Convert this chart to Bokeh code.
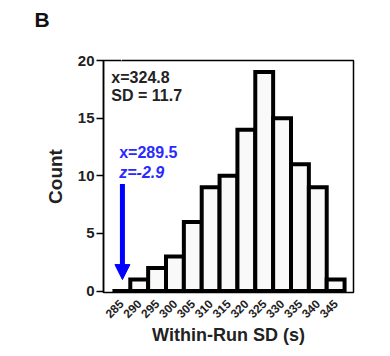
import math
from bokeh.plotting import figure
from bokeh.models import (FixedTicker, Label, Arrow, NormalHead, ColumnDataSource, Range1d,
                          Title, LinearAxis)
from bokeh.embed import file_html
from bokeh.resources import INLINE

# ---- data ----
bins = [285, 290, 295, 300, 305, 310, 315, 320, 325, 330, 335, 340, 345]
counts = [0, 1, 2, 3, 6, 9, 10, 14, 19, 15, 11, 9, 1]
bin_width = 5
y_ticks = [0, 5, 10, 15, 20]
mean_text = "x=324.8"
sd_text = "SD = 11.7"
outlier_x_text = "x=289.5"
outlier_z_text = "z=-2.9"
panel_letter = "B"

FONT = "Liberation Sans"

src = ColumnDataSource(dict(
    left=[b - bin_width / 2 for b in bins],
    right=[b + bin_width / 2 for b in bins],
    top=counts,
    bottom=[0] * len(counts),
))

p = figure(width=382, height=348, output_backend="svg", toolbar_location=None,
           x_range=Range1d(280, 350), y_range=Range1d(-0.12, 20),
           min_border_left=103, min_border_right=29, min_border_top=60, min_border_bottom=56)
p.background_fill_color = "white"
p.border_fill_color = "white"
p.outline_line_color = "black"
p.outline_line_width = 1.5
p.xgrid.visible = False
p.ygrid.visible = False

xax = p.below[0]
yax = p.left[0]

# spacer axis above the frame (white tick, blank label) so the panel letter sits near the top
spacer = LinearAxis(ticker=FixedTicker(ticks=[bins[0]]), axis_line_color=None,
                    major_tick_line_color="white", minor_tick_line_color=None,
                    major_tick_out=30, major_tick_in=0, major_label_standoff=0,
                    major_label_overrides={bins[0]: ""},
                    major_label_text_font_size="1px")
p.add_layout(spacer, "above")
p.add_layout(Title(text=panel_letter, align="left", offset=-69, standoff=0,
                   vertical_align="bottom",
                   text_font=FONT, text_font_size="21px", text_font_style="bold",
                   text_color="#111111"), "above")

p.quad(left="left", right="right", top="top", bottom="bottom", source=src,
       fill_color="#f9f9f9", line_color="black", line_width=4, line_join="miter")

# axes
xax.ticker = FixedTicker(ticks=bins)
xax.major_label_orientation = math.pi / 4
xax.major_tick_line_color = None
xax.major_tick_out = 0
xax.major_tick_in = 0
xax.minor_tick_line_color = None
xax.axis_line_color = "black"
xax.major_label_text_font = FONT
xax.major_label_text_font_size = "12px"
xax.major_label_text_font_style = "bold"
xax.major_label_text_color = "#222222"
xax.major_label_standoff = 9
xax.axis_label = "Within-Run SD (s)"
xax.axis_label_text_font = FONT
xax.axis_label_text_font_size = "18px"
xax.axis_label_text_font_style = "bold"
xax.axis_label_text_color = "#222222"
xax.axis_label_standoff = 0

yax.ticker = FixedTicker(ticks=y_ticks)
yax.minor_tick_line_color = None
yax.major_tick_in = 0
yax.major_tick_out = 7
yax.major_tick_line_width = 1.5
yax.axis_line_width = 1.5
yax.major_label_text_font = FONT
yax.major_label_text_font_size = "15px"
yax.major_label_text_font_style = "bold"
yax.major_label_text_color = "#222222"
yax.major_label_standoff = 2
yax.axis_label = "Count"
yax.axis_label_text_font = FONT
yax.axis_label_text_font_size = "19px"
yax.axis_label_text_font_style = "bold"
yax.axis_label_text_color = "#222222"
yax.axis_label_standoff = 9

# annotations
for txt, yy in [(mean_text, 18.5), (sd_text, 17.0)]:
    p.add_layout(Label(x=282.2, y=yy, text=txt, text_font=FONT, text_font_size="16px",
                       text_font_style="bold", text_color="#222222", text_baseline="middle"))

p.add_layout(Label(x=284.4, y=12.05, text=outlier_x_text, text_font=FONT, text_font_size="16px",
                   text_font_style="bold", text_color="#2a2aff", text_baseline="middle"))
p.add_layout(Label(x=284.4, y=10.3, text=outlier_z_text, text_font=FONT, text_font_size="16px",
                   text_font_style="bold italic", text_color="#2a2aff", text_baseline="middle"))

p.add_layout(Arrow(x_start=bins[0] + 0.3, y_start=9.3, x_end=bins[0] + 0.3, y_end=1.0,
                   line_color="#0000ff", line_width=5,
                   end=NormalHead(size=15, fill_color="#0000ff", line_color="#0000ff", line_width=1)))

open("out.html", "w").write(file_html(p, INLINE))
